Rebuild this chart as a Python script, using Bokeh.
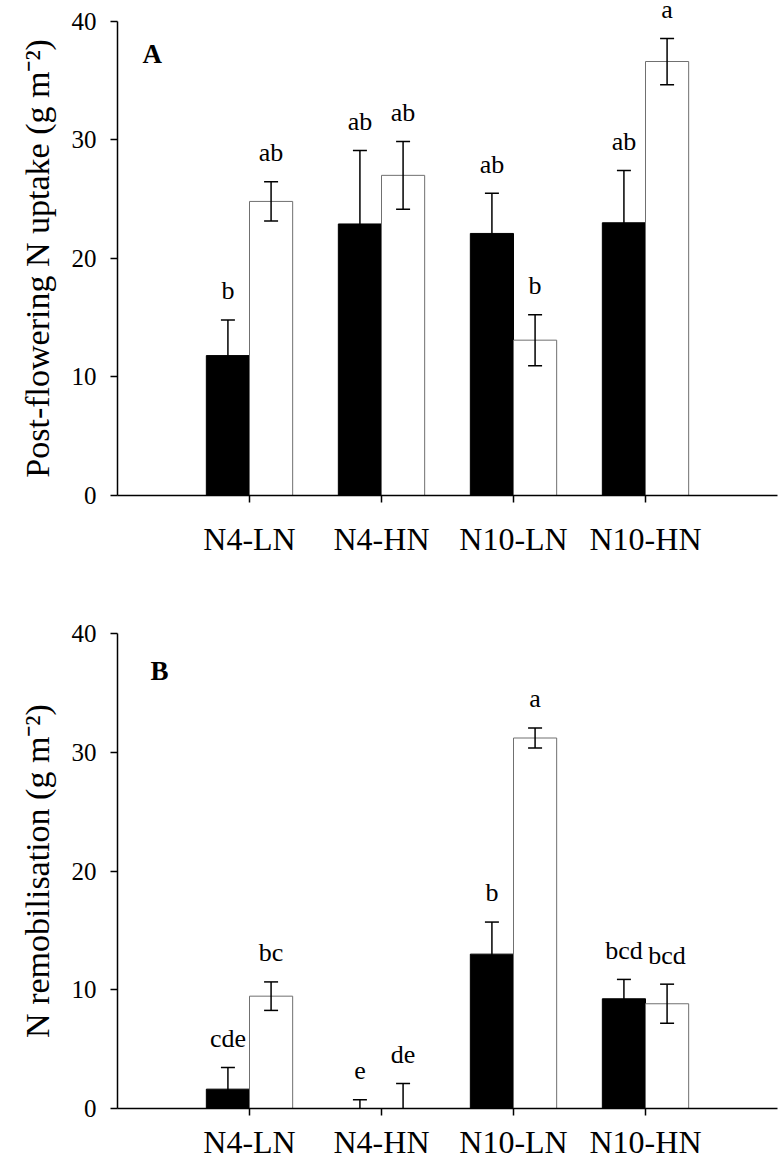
import numpy as np
from bokeh.plotting import figure
from bokeh.models import ColumnDataSource, FactorRange, Range1d, FixedTicker
from bokeh.transform import dodge
from bokeh.layouts import column, row
from bokeh.core.properties import value
from bokeh.embed import file_html
from bokeh.resources import INLINE

categories = ["N4-LN", "N4-HN", "N10-LN", "N10-HN"]

# Panel A: post-flowering N uptake (g m-2); black and white bars, mean and SE
uptake_black = [11.8, 22.9, 22.1, 23.0]
uptake_black_se = [3.0, 6.2, 3.4, 4.4]
uptake_white = [24.8, 27.0, 13.1, 36.6]
uptake_white_se = [1.65, 2.85, 2.15, 1.95]
uptake_black_letters = ["b", "ab", "ab", "ab"]
uptake_white_letters = ["ab", "ab", "b", "a"]

# Panel B: N remobilisation (g m-2)
remob_black = [1.63, 0.0, 13.0, 9.24]
remob_black_se = [1.83, 0.73, 2.7, 1.63]
remob_white = [9.46, 0.0, 31.2, 8.82]
remob_white_se = [1.2, 2.1, 0.85, 1.65]
remob_black_letters = ["cde", "e", "b", "bcd"]
remob_white_letters = ["bc", "de", "a", "bcd"]

y_ticks = [0, 10, 20, 30, 40]

title_a = "Post-flowering N uptake (g m\u207b\u00b2)"
title_b = "N remobilisation (g m\u207b\u00b2)"

FONT = value("Liberation Serif")
OFF = 0.1635      # half bar offset
BW = 0.327        # bar width
CAP = 0.053       # half cap width
LAB_GAP = 2.45    # letters above the error bar


def make_panel(black, black_se, white, white_se, bl_let, wh_let, ytitle,
               panel_letter, letter_xy, height, top_border, frame_h, y_end,
               cat_standoff):
    src = ColumnDataSource(dict(
        cat=categories,
        bk=black, wh=white,
        bk_lo=[m - s for m, s in zip(black, black_se)],
        bk_hi=[m + s for m, s in zip(black, black_se)],
        wh_lo=[m - s for m, s in zip(white, white_se)],
        wh_hi=[m + s for m, s in zip(white, white_se)],
        bk_lab=[m + s + LAB_GAP for m, s in zip(black, black_se)],
        wh_lab=[m + s + LAB_GAP for m, s in zip(white, white_se)],
        bk_let=bl_let, wh_let=wh_let,
    ))
    bottom_border = height - top_border - frame_h
    xr = FactorRange(factors=categories, range_padding=0.5,
                     range_padding_units="absolute")
    yr = Range1d(0, y_end)
    p = figure(x_range=xr, y_range=yr, width=720, height=height,
               output_backend="svg", toolbar_location=None,
               min_border_left=57, min_border_right=3,
               min_border_top=top_border, min_border_bottom=bottom_border)
    p.grid.visible = False
    p.outline_line_color = None

    def dx(o):
        return dodge("cat", o, range=xr)

    p.vbar(x=dx(-OFF), top="bk", width=BW, source=src,
           fill_color="black", line_color="black", line_width=1)
    p.vbar(x=dx(OFF), top="wh", width=BW, source=src,
           fill_color="white", line_color="#707070", line_width=1)

    for o, lo, hi in ((-OFF, "bk_lo", "bk_hi"), (OFF, "wh_lo", "wh_hi")):
        p.segment(x0=dx(o), x1=dx(o), y0=lo, y1=hi, source=src,
                  line_color="black", line_width=1.5)
        p.segment(x0=dx(o - CAP), x1=dx(o + CAP), y0=hi, y1=hi, source=src,
                  line_color="black", line_width=1.5)
        p.segment(x0=dx(o - CAP), x1=dx(o + CAP), y0=lo, y1=lo, source=src,
                  line_color="black", line_width=1.5)

    p.text(x=dx(-OFF), y="bk_lab", text="bk_let", source=src, text_font=FONT,
           text_font_size="26px", text_align="center",
           text_baseline="alphabetic", text_color="black")
    p.text(x=dx(OFF), y="wh_lab", text="wh_let", source=src, text_font=FONT,
           text_font_size="26px", text_align="center",
           text_baseline="alphabetic", text_color="black")

    p.text(x=[letter_xy[0]], y=[letter_xy[1]], text=[panel_letter],
           text_font=FONT, text_font_size="27px", text_font_style="bold",
           text_align="left", text_baseline="alphabetic", text_color="black")

    xa = p.xaxis[0]
    xa.axis_line_color = "black"
    xa.axis_line_width = 1.5
    xa.major_tick_line_color = "black"
    xa.major_tick_line_width = 1.5
    xa.major_tick_out = 7
    xa.major_tick_in = 0
    xa.major_label_text_font = "Liberation Serif"
    xa.major_label_text_font_size = "32px"
    xa.major_label_text_color = "black"
    xa.major_label_standoff = cat_standoff

    ya = p.yaxis[0]
    ya.ticker = FixedTicker(ticks=y_ticks)
    ya.bounds = (min(y_ticks), max(y_ticks))
    ya.axis_line_color = "black"
    ya.axis_line_width = 1.5
    ya.major_tick_line_color = "black"
    ya.major_tick_line_width = 1.5
    ya.major_tick_out = 7
    ya.major_tick_in = 0
    ya.minor_tick_out = 0
    ya.minor_tick_in = 0
    ya.major_label_text_font = "Liberation Serif"
    ya.major_label_text_font_size = "25px"
    ya.major_label_text_color = "black"
    ya.major_label_standoff = 14

    t = figure(x_range=Range1d(0, 60), y_range=yr, width=60, height=height,
               output_backend="svg", toolbar_location=None,
               x_axis_location=None, y_axis_location=None,
               min_border_left=0, min_border_right=0,
               min_border_top=top_border, min_border_bottom=bottom_border)
    t.grid.visible = False
    t.outline_line_color = None
    t.text(x=[37], y=[(min(y_ticks) + max(y_ticks)) / 2], text=[ytitle],
           angle=np.pi / 2, text_font=FONT, text_font_size="34px",
           text_align="center", text_baseline="alphabetic", text_color="black")
    return row(t, p)


panel_a = make_panel(uptake_black, uptake_black_se, uptake_white, uptake_white_se,
                     uptake_black_letters, uptake_white_letters, title_a,
                     "A", (-0.31, 37.27), height=590, top_border=0,
                     frame_h=495, y_end=40 * 495 / 474.3, cat_standoff=18)
panel_b = make_panel(remob_black, remob_black_se, remob_white, remob_white_se,
                     remob_black_letters, remob_white_letters, title_b,
                     "B", (-0.25, 36.88), height=572, top_border=10,
                     frame_h=508, y_end=40 * 508 / 475.0, cat_standoff=8)

layout = column(panel_a, panel_b)

open("out.html", "w").write(file_html(layout, INLINE))
